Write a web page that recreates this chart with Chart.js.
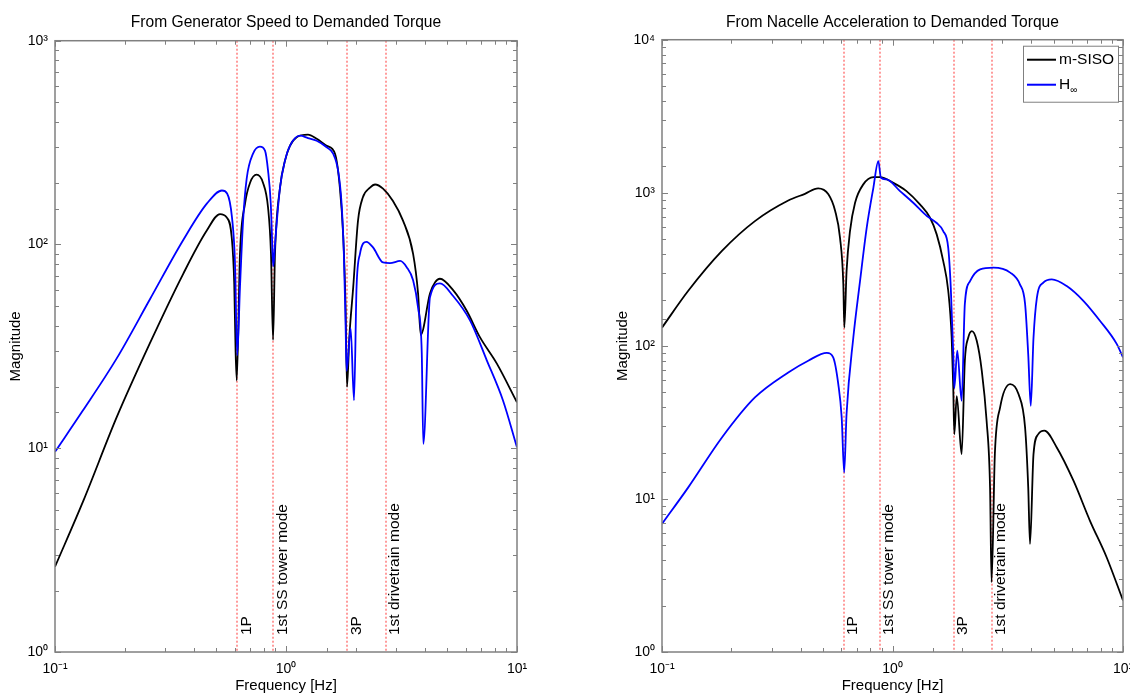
<!DOCTYPE html>
<html>
<head>
<meta charset="utf-8">
<script src="https://cdn.jsdelivr.net/npm/chart.js@4.4.1/dist/chart.umd.min.js"></script>
<style>
    body { margin: 0; background: #fff; }
    #wrap { position: relative; width: 1130px; height: 694px; }
    .box { position: absolute; top: 0; width: 565px; height: 694px; }
</style>
</head>
<body>
<div id="wrap">
    <div class="box" style="left:0"><canvas id="genChart"></canvas></div>
    <div class="box" style="left:565px"><canvas id="nacChart"></canvas></div>
</div>
<script>
// Frequencies of the marked modes [Hz] and their labels
const modeFreqs = [0.615, 0.881, 1.843, 2.70];
const modeLabels = ['1P', '1st SS tower mode', '3P', '1st drivetrain mode'];

// Tick labels at the decades
const xTickLabels = ['10⁻¹', '10⁰', '10¹'];
const genYTickLabels = ['10⁰', '10¹', '10²', '10³'];
const nacYTickLabels = ['10⁰', '10¹', '10²', '10³', '10⁴'];

// Legend entries: text and subscript
const legendText = ['m-SISO', 'H'];
const legendSub = ['', '∞'];

// From Generator Speed to Demanded Torque - m-SISO
const genSisoFreq = [0.1, 0.133, 0.185, 0.257, 0.359, 0.454, 0.518, 0.553, 0.582, 0.597, 0.605, 0.612,
    0.632, 0.665, 0.699, 0.746, 0.795, 0.836, 0.861, 0.879,
    0.896, 0.942, 0.990, 1.04, 1.112, 1.245, 1.358, 1.50, 1.63, 1.71, 1.77, 1.81, 1.837,
    1.88, 1.954, 2.05, 2.15, 2.31, 2.43, 2.63, 2.90, 3.21, 3.55, 3.73, 3.83,
    4.20, 4.42, 4.64, 5.30, 6.05, 6.91, 8.17, 10];
const genSisoMag = [2.62, 5.56, 14.2, 32.6, 71.8, 117, 141, 136, 108.6, 64, 30, 21.5,
    90, 159, 201, 220, 201, 152, 90, 34,
    90, 190, 258, 305, 336, 346, 330, 305, 279, 191, 108.6, 51, 20,
    35, 61.6, 131, 170, 190, 197, 188, 164, 131, 90, 57.5, 36,
    57.5, 65.3, 67.9, 59.5, 47.4, 35.1, 26.1, 16.8];

// From Generator Speed to Demanded Torque - H-infinity
const genHinfFreq = [0.1, 0.132, 0.185, 0.258, 0.358, 0.455, 0.528, 0.556, 0.584, 0.601, 0.615,
    0.632, 0.652, 0.676, 0.720, 0.771, 0.811, 0.836, 0.859, 0.875, 0.881,
    0.896, 0.942, 0.990, 1.04, 1.15, 1.245, 1.358, 1.50, 1.60, 1.68, 1.74, 1.78, 1.81, 1.83,
    1.905, 1.97, 2.02, 2.09, 2.23, 2.38, 2.63, 2.82, 3.12, 3.33, 3.55, 3.73, 3.87, 3.93,
    4.20, 4.64, 5.28, 6.26, 7.40, 8.69, 10];
const genHinfMag = [9.6, 15.3, 27.6, 54, 104.6, 159, 184, 178, 135, 83, 28.6,
    61.5, 131, 211, 279, 302, 289, 231, 159, 90, 78,
    100, 190, 258, 305, 342, 333, 323, 300, 279, 231, 159, 90, 42, 24,
    38.7, 17.2, 61.5, 90, 103, 96.7, 81.6, 81, 83, 77.4, 66.7, 49, 29.3, 10.5,
    55, 64.4, 56, 42.4, 27, 17.2, 10.1];

// From Nacelle Acceleration to Demanded Torque - m-SISO
const nacSisoFreq = [0.1, 0.130, 0.182, 0.253, 0.353, 0.417, 0.476, 0.527, 0.564, 0.592, 0.612, 0.618,
    0.632, 0.654, 0.688, 0.747, 0.826, 0.883, 1.008, 1.15, 1.315, 1.455, 1.555, 1.66, 1.745, 1.806, 1.835, 1.854,
    1.90, 1.995, 2.06, 2.13, 2.21, 2.32, 2.44, 2.56, 2.65, 2.69,
    2.78, 2.93, 3.24, 3.52, 3.76, 3.88, 3.95,
    4.09, 4.29, 4.56, 5.16, 6.09, 7.19, 8.49, 10];
const nacSisoMag = [131.6, 229, 417, 653, 890, 985, 1069, 977, 760, 508, 251, 131.6,
    308, 562, 861, 1135, 1266, 1266, 1161, 1026, 840, 687, 535, 358, 229, 113, 53, 26.5,
    47, 19.6, 80, 113, 125, 108, 68.7, 32.4, 11.9, 2.86,
    19.6, 39.6, 56.3, 48.4, 29.3, 11.9, 5.08,
    19.6, 26.5, 27.9, 21.7, 13.2, 7.2, 4.16, 2.17];

// From Nacelle Acceleration to Demanded Torque - H-infinity
const nacHinfFreq = [0.1, 0.130, 0.182, 0.253, 0.353, 0.431, 0.519, 0.553, 0.582, 0.602, 0.617,
    0.632, 0.676, 0.723, 0.773, 0.826, 0.868, 0.891, 0.944, 1.078, 1.23, 1.41, 1.55, 1.66, 1.745, 1.79, 1.835, 1.854,
    1.91, 1.995, 2.06, 2.17, 2.40, 2.74, 3.24, 3.57, 3.76, 3.88, 3.98,
    4.09, 4.23, 4.51, 4.91, 5.70, 6.73, 7.94, 9.39, 10];
const nacHinfMag = [6.87, 11.9, 25.2, 46, 67, 80, 90, 84, 56, 34, 14.9,
    36, 113, 265, 592, 1078, 1610, 1253, 1223, 1026, 861, 705, 637, 562, 437, 240, 88, 53,
    93, 43.8, 188, 265, 316, 324, 301, 252, 188, 88, 40.6,
    113, 206, 259, 272, 246, 197, 146, 103, 84];

const FONT = '"Liberation Sans", Arial, sans-serif';
Chart.defaults.font.family = FONT;
Chart.defaults.color = '#000';

function isDecade(v) {
    const e = Math.log10(v);
    return Math.abs(e - Math.round(e)) < 1e-6;
}

function toPoints(freq, mag) {
    return freq.map((f, i) => ({x: f, y: mag[i]}));
}

// Dotted red lines at the modes with rotated text
const modeLines = {
    id: 'modeLines',
    beforeDatasetsDraw(chart) {
        const {ctx, chartArea: a, scales: {x}} = chart;
        ctx.save();
        ctx.strokeStyle = 'rgba(255, 0, 0, 0.6)';
        ctx.lineWidth = 1.3;
        ctx.setLineDash([2, 2]);
        modeFreqs.forEach(f => {
            const px = Math.round(x.getPixelForValue(f));
            ctx.beginPath();
            ctx.moveTo(px, a.top);
            ctx.lineTo(px, a.bottom);
            ctx.stroke();
        });
        ctx.restore();
    },
    afterDatasetsDraw(chart) {
        const {ctx, chartArea: a, scales: {x}} = chart;
        ctx.save();
        ctx.fillStyle = '#000';
        ctx.font = '15.5px ' + FONT;
        ctx.textAlign = 'left';
        ctx.textBaseline = 'middle';
        modeFreqs.forEach((f, i) => {
            const px = x.getPixelForValue(f);
            ctx.save();
            ctx.translate(px + 9, a.bottom - 17);
            ctx.rotate(-Math.PI / 2);
            ctx.fillText(modeLabels[i], 0, 0);
            ctx.restore();
        });
        ctx.restore();
    }
};

// Box round the plot and inward tick marks on all four sides
const boxTicks = {
    id: 'boxTicks',
    afterDatasetsDraw(chart) {
        const {ctx, chartArea: a, scales: {x, y}} = chart;
        ctx.save();
        ctx.strokeStyle = '#808080';
        ctx.lineWidth = 1;
        ctx.beginPath();
        x.ticks.forEach(t => {
            const px = Math.round(x.getPixelForValue(t.value)) + 0.5;
            const len = isDecade(t.value) ? 6 : 4;
            ctx.moveTo(px, a.bottom); ctx.lineTo(px, a.bottom - len);
            ctx.moveTo(px, a.top); ctx.lineTo(px, a.top + len);
        });
        y.ticks.forEach(t => {
            const py = Math.round(y.getPixelForValue(t.value)) + 0.5;
            const len = isDecade(t.value) ? 6 : 4;
            ctx.moveTo(a.left, py); ctx.lineTo(a.left + len, py);
            ctx.moveTo(a.right, py); ctx.lineTo(a.right - len, py);
        });
        ctx.stroke();
        ctx.lineWidth = 1.5;
        ctx.strokeRect(a.left, a.top, a.width, a.height);
        ctx.restore();
    }
};

// MATLAB style legend box in the top right corner
const boxLegend = {
    id: 'boxLegend',
    afterDraw(chart) {
        const {ctx, chartArea: a} = chart;
        const w = 95, h = 56;
        const left = a.right - w - 5, top = a.top + 6;
        ctx.save();
        ctx.fillStyle = '#fff';
        ctx.fillRect(left, top, w, h);
        ctx.strokeStyle = '#808080';
        ctx.lineWidth = 1;
        ctx.strokeRect(left + 0.5, top + 0.5, w, h);
        chart.data.datasets.forEach((ds, i) => {
            const yy = top + 14 + i * 25;
            ctx.strokeStyle = ds.borderColor;
            ctx.lineWidth = 2;
            ctx.beginPath();
            ctx.moveTo(left + 4, yy);
            ctx.lineTo(left + 33, yy);
            ctx.stroke();
            ctx.fillStyle = '#000';
            ctx.textBaseline = 'middle';
            ctx.font = '15.5px ' + FONT;
            ctx.fillText(legendText[i], left + 36, yy);
            if (legendSub[i]) {
                const tw = ctx.measureText(legendText[i]).width;
                ctx.font = '10px ' + FONT;
                ctx.fillText(legendSub[i], left + 36 + tw, yy + 6);
            }
        });
        ctx.restore();
    }
};

function makeChart(id, title, sisoPts, hinfPts, yMax, yLabels, pad) {
    const ctx = document.getElementById(id).getContext('2d');
    return new Chart(ctx, {
        type: 'line',
        data: {
            datasets: [
                {
                    label: 'm-SISO',
                    data: sisoPts,
                    borderColor: '#000000',
                    borderWidth: 1.8,
                    pointRadius: 0,
                    cubicInterpolationMode: 'monotone',
                    order: 1
                },
                {
                    label: 'H∞',
                    data: hinfPts,
                    borderColor: '#0000ff',
                    borderWidth: 1.8,
                    pointRadius: 0,
                    cubicInterpolationMode: 'monotone',
                    order: 0
                }
            ]
        },
        options: {
            responsive: true,
            maintainAspectRatio: false,
            animation: false,
            events: [],
            layout: {
                padding: {left: pad.left, right: pad.right, top: 0, bottom: 0}
            },
            scales: {
                x: {
                    type: 'logarithmic',
                    min: 0.1,
                    max: 10,
                    grid: {display: false, drawTicks: false},
                    border: {display: false},
                    ticks: {
                        autoSkip: false,
                        maxRotation: 0,
                        padding: 9,
                        font: {size: 14},
                        callback: v => isDecade(v) ? xTickLabels[Math.round(Math.log10(v)) + 1] : ''
                    },
                    title: {display: true, text: 'Frequency [Hz]', font: {size: 15}, padding: {top: 0, bottom: -1}},
                    afterFit: s => { s.height = 42; s.paddingLeft = 0; s.paddingRight = 0; }
                },
                y: {
                    type: 'logarithmic',
                    min: 1,
                    max: yMax,
                    grid: {display: false, drawTicks: false},
                    border: {display: false},
                    ticks: {
                        autoSkip: false,
                        padding: 7,
                        font: {size: 14},
                        callback: v => isDecade(v) ? yLabels[Math.round(Math.log10(v))] : ''
                    },
                    title: {display: true, text: 'Magnitude', font: {size: 15}, padding: {top: 7, bottom: 0}},
                    afterFit: s => { s.width = 55; s.paddingTop = 0; s.paddingBottom = 0; }
                }
            },
            plugins: {
                legend: {display: false},
                tooltip: {enabled: false},
                title: {
                    display: true,
                    text: title,
                    fullSize: false,
                    font: {size: 15.6, weight: 'normal'},
                    padding: {top: 13, bottom: pad.titleBottom}
                }
            }
        },
        plugins: pad.legend ? [modeLines, boxTicks, boxLegend] : [modeLines, boxTicks]
    });
}

document.addEventListener('DOMContentLoaded', () => {
    makeChart('genChart', 'From Generator Speed to Demanded Torque',
        toPoints(genSisoFreq, genSisoMag), toPoints(genHinfFreq, genHinfMag),
        1000, genYTickLabels, {left: 0, right: 48, titleBottom: 9, legend: false});
    makeChart('nacChart', 'From Nacelle Acceleration to Demanded Torque',
        toPoints(nacSisoFreq, nacSisoMag), toPoints(nacHinfFreq, nacHinfMag),
        10000, nacYTickLabels, {left: 42, right: 7, titleBottom: 8, legend: true});
});
</script>
</body>
</html>
